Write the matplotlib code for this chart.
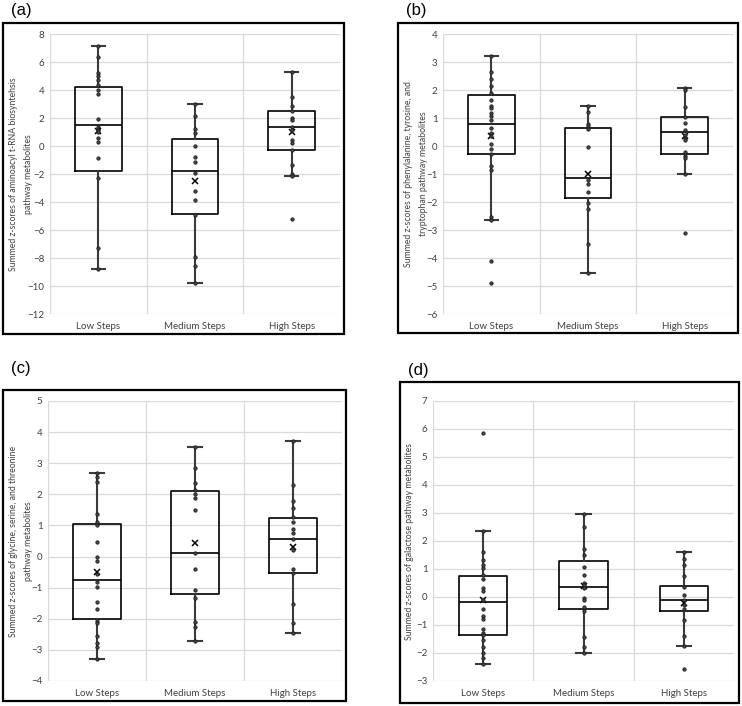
"""
Four Excel-style box-and-whisker panels: summed z-scores of pathway
metabolites by step-count group (low / medium / high steps).
"""

import matplotlib
matplotlib.use("Agg")
import matplotlib.pyplot as plt
from matplotlib.patches import Rectangle

GROUPS = ["Low Steps", "Medium Steps", "High Steps"]

# (a) aminoacyl t-RNA biosynthesis
a_low = [7.12, 6.37, 5.23, 4.99, 4.75, 4.35, 3.99, 3.68, 1.96, 1.36, 1.22,
         1.12, 0.98, 0.60, 0.29, -0.83, -2.29, -7.31, -8.79]
a_med = [3.0, 2.16, 1.23, 0.92, 0.01, -0.75, -1.11, -1.92, -3.20, -3.87,
         -4.90, -7.92, -8.59, -9.81]
a_high = [5.31, 3.52, 2.87, 2.49, 1.99, 1.83, 1.37, 1.13, 0.40, 0.18, -0.30,
          -1.39, -1.99, -2.16, -5.21]
# whisker low, q1, median, q3, whisker high, mean
a_box = [(-8.79, -1.79, 1.50, 4.24, 7.12, 1.05),
         (-9.81, -4.87, -1.80, 0.47, 3.00, -2.51),
         (-2.16, -0.30, 1.37, 2.47, 5.31, 0.97)]

# (b) phenylalanine, tyrosine, tryptophan
b_low = [3.22, 2.64, 2.40, 2.13, 1.90, 1.63, 1.44, 1.34, 1.18, 1.06, 0.94,
         0.66, 0.46, 0.36, 0.07, -0.10, -0.29, -0.70, -0.87, -2.52, -2.64,
         -4.10, -4.88]
b_med = [1.44, 1.21, 0.79, 0.70, 0.59, -0.04, -1.21, -1.36, -1.65, -2.04,
         -2.26, -3.50, -4.52]
b_high = [2.07, 1.99, 1.41, 1.03, 0.83, 0.56, 0.41, 0.28, 0.22, -0.20,
          -0.34, -0.42, -0.99, -3.12]
b_box = [(-2.64, -0.27, 0.78, 1.83, 3.22, 0.35),
         (-4.52, -1.85, -1.15, 0.66, 1.44, -1.00),
         (-0.99, -0.27, 0.50, 1.02, 2.07, 0.35)]

# (c) glycine, serine, threonine
c_low = [2.67, 2.56, 2.41, 1.36, 1.11, 1.00, 0.47, -0.01, -0.15, -0.57,
         -0.82, -0.97, -1.47, -1.69, -2.06, -2.13, -2.54, -2.77, -2.92, -3.29]
c_med = [3.51, 2.86, 2.36, 2.15, 2.02, 1.87, 1.51, 0.12, -0.41, -1.09,
         -1.33, -2.11, -2.25, -2.73]
c_high = [3.73, 2.29, 1.80, 1.57, 1.27, 1.12, 0.88, 0.77, 0.58, 0.20, -0.40,
          -0.54, -1.52, -2.13, -2.45]
c_box = [(-3.29, -2.00, -0.74, 1.06, 2.67, -0.49),
         (-2.73, -1.20, 0.12, 2.10, 3.51, 0.42),
         (-2.45, -0.52, 0.57, 1.25, 3.73, 0.30)]

# (d) galactose
d_low = [5.84, 2.35, 1.59, 1.33, 1.15, 1.03, 0.77, 0.66, 0.31, 0.20, -0.11,
         -0.42, -0.69, -0.80, -1.16, -1.28, -1.37, -1.54, -1.79, -1.99,
         -2.19, -2.40]
d_med = [2.98, 2.51, 1.73, 1.49, 1.07, 0.77, 0.51, 0.43, 0.31, -0.03, -0.12,
         -0.36, -0.51, -1.43, -1.80, -2.01]
d_high = [1.61, 1.34, 1.16, 0.76, 0.34, 0.06, -0.11, -0.29, -0.44, -0.81,
          -1.39, -1.75, -2.56]
d_box = [(-2.40, -1.36, -0.19, 0.75, 2.35, -0.12),
         (-2.01, -0.43, 0.35, 1.28, 2.98, 0.38),
         (-1.75, -0.51, -0.09, 0.38, 1.61, -0.20)]

W, H = 742, 706
GRID = "#d9d9d9"; TXT = "#404040"; WHISK = "#3a3a3a"

plt.rcParams.update({"font.family": ["Lato", "DejaVu Sans"]})


def fx(px):
    return px / W


def fy(py):
    return 1 - py / H


def panel(fig, letter, frame, area, label, label_dx, letter_dy,
          points, box, ylim, step):
    fig.patches.append(Rectangle((fx(frame[0]), fy(frame[3])),
                                 fx(frame[2] - frame[0]), (frame[3] - frame[1]) / H,
                                 transform=fig.transFigure, fill=False,
                                 edgecolor="black", lw=1.6))
    fig.text(fx(frame[0] + 8), fy(frame[1] + letter_dy), letter, fontsize=12,
             family="Liberation Sans", va="center", ha="left")
    ax = fig.add_axes([fx(area[0]), fy(area[3]), fx(area[2] - area[0]),
                       (area[3] - area[1]) / H])
    stats = [dict(whislo=b[0], q1=b[1], med=b[2], q3=b[3], whishi=b[4],
                  mean=b[5], fliers=[]) for b in box]
    ax.bxp(stats, positions=[1, 2, 3], widths=0.48, showmeans=True,
           showfliers=False, patch_artist=False,
           boxprops=dict(color="black", lw=1.2),
           medianprops=dict(color="black", lw=1.2),
           whiskerprops=dict(color=WHISK, lw=1.5),
           capprops=dict(color=WHISK, lw=1.5), capwidths=0.14,
           meanprops=dict(marker="x", markeredgecolor="black", ms=5,
                          markeredgewidth=1.1))
    for i, pts in enumerate(points):
        ax.plot([i + 1] * len(pts), pts, "o", ms=2.4, mfc="#4a4a4a",
                mec="#1a1a1a", mew=0.6, ls="none", zorder=4)
    ax.set_xlim(0.5, 3.5)
    ax.set_ylim(*ylim)
    ax.set_yticks(range(int(ylim[0]), int(ylim[1]) + 1, step))
    ax.set_xticks([1, 2, 3])
    ax.set_xticklabels(GROUPS)
    for x in (0.5, 1.5, 2.5, 3.5):
        ax.axvline(x, color=GRID, lw=0.9, zorder=0)
    ax.grid(axis="y", color=GRID, lw=0.9, zorder=0)
    ax.set_axisbelow(True)
    for s in ax.spines.values():
        s.set_visible(False)
    ax.tick_params(length=0, labelsize=7, colors=TXT)
    ax.tick_params(axis="y", pad=4)
    ax.tick_params(axis="x", pad=6)
    ax.set_ylabel(label, fontsize=6.2, color=TXT, va="center", linespacing=1.75)
    ax.yaxis.set_label_coords(label_dx / (area[2] - area[0]), 0.5)
    return ax


fig = plt.figure(figsize=(W / 100, H / 100), dpi=100)
fig.patch.set_facecolor("white")

panel(fig, "(a)", (3, 23, 344, 334), (50, 34, 340, 314),
      "Summed z-scores of aminoacyl t-RNA biosyntehsis\npathway metabolites",
      -29, -13, [a_low, a_med, a_high], a_box, (-12, 8), 2)
panel(fig, "(b)", (398, 23, 738, 333), (443, 34, 733, 314),
      "Summed z-scores of phenylalanine, tyrosine, and\ntryptophan pathway metabolites",
      -27, -13, [b_low, b_med, b_high], b_box, (-6, 4), 1)
panel(fig, "(c)", (3, 390, 346, 701), (48, 401, 342, 681),
      "Summed z-scores of glycine, serine, and threonine\npathway metabolites",
      -27, -22, [c_low, c_med, c_high], c_box, (-4, 5), 1)
panel(fig, "(d)", (400, 382, 739, 703), (433, 401, 734, 681),
      "Summed z-scores of galactose pathway metabolites",
      -24, -11, [d_low, d_med, d_high], d_box, (-3, 7), 1)

fig.savefig("out.png", dpi=100)
